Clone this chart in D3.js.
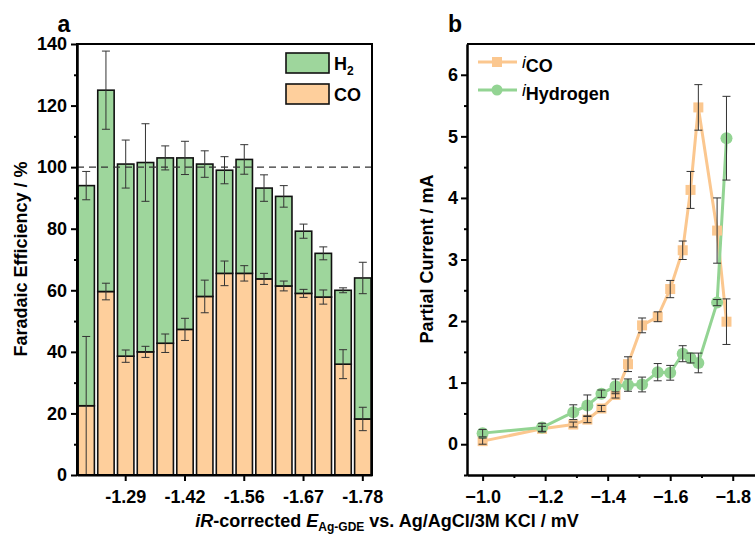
<!DOCTYPE html>
<html>
<head>
<meta charset="utf-8">
<script src="https://cdn.jsdelivr.net/npm/d3@7"></script>
<style>
  body { margin: 0; background: #fff; }
  svg { font-family: "Liberation Sans", Arial, sans-serif; font-weight: bold; }
</style>
</head>
<body>
<script>
const width = 755;
const height = 540;

// potentials (V vs Ag/AgCl), shared by both panels
const potentials = [-1.0, -1.19, -1.29, -1.335, -1.38, -1.425, -1.465, -1.51, -1.56, -1.6, -1.64, -1.665, -1.69, -1.75, -1.78];
const barTicks = [-1.29, -1.425, -1.56, -1.665, -1.78];
const barTickLabels = ["-1.29", "-1.42", "-1.56", "-1.67", "-1.78"];

// panel a: faradaic efficiency (%)
const feCO = [22.5, 59.6, 38.6, 40, 42.8, 47.3, 58, 65.5, 65.5, 63.7, 61.4, 59, 57.8, 36, 18.2];
const feH2 = [71.5, 65.4, 62.4, 61.5, 60.2, 55.7, 43, 33.5, 37, 29.5, 29.1, 20.2, 14.2, 24, 45.8];
const errCO = [22.5, 2.7, 2, 1.8, 3, 3.6, 5.3, 4, 2.5, 1.8, 1.6, 1.3, 2.3, 4.7, 3.8];
const errTotal = [4.6, 12.7, 7.8, 12.6, 3.9, 5.4, 4.3, 4.4, 4.8, 4.3, 3.5, 2.3, 2.1, 0.8, 5.1];

// panel b: partial currents (mA)
const iCO = [0.05, 0.25, 0.32, 0.4, 0.58, 0.8, 1.3, 1.93, 2.07, 2.52, 3.15, 4.13, 5.47, 3.47, 1.99];
const iCOerr = [0.05, 0.04, 0.04, 0.05, 0.05, 0.05, 0.12, 0.12, 0.08, 0.14, 0.15, 0.3, 0.37, 0.53, 0.37];
const iH2 = [0.18, 0.27, 0.52, 0.63, 0.82, 0.94, 0.96, 0.97, 1.17, 1.16, 1.47, 1.4, 1.32, 2.3, 4.97];
const iH2err = [0.06, 0.07, 0.12, 0.17, 0.06, 0.12, 0.1, 0.12, 0.14, 0.12, 0.13, 0.08, 0.16, 0.05, 0.68];

const colorH2 = "#9ed69c";
const colorCO = "#fecf9c";
const lineCO = "#fbc78f";
const lineH2 = "#93d493";
const errColor = "#333";

const svg = d3
  .select("body")
  .append("svg")
  .attr("width", width)
  .attr("height", height);

const plotTop = 44;
const plotBottom = 475;

// ---------- panel a ----------
const xA = d3.scaleBand().domain(potentials).range([77, 372]).paddingInner(0.17).paddingOuter(0.05);
const yA = d3.scaleLinear().domain([0, 140]).range([plotBottom, plotTop]);

const rows = potentials.map((p, i) => ({ p: p, CO: feCO[i], H2: feH2[i], i: i }));
const stack = d3.stack().keys(["CO", "H2"])(rows);
const fills = { CO: colorCO, H2: colorH2 };

const gA = svg.append("g");

gA.selectAll("g.layer")
  .data(stack)
  .join("g")
  .attr("fill", (s) => fills[s.key])
  .selectAll("rect")
  .data((s) => s)
  .join("rect")
  .attr("x", (d) => xA(d.data.p))
  .attr("y", (d) => yA(d[1]))
  .attr("width", xA.bandwidth())
  .attr("height", (d) => yA(d[0]) - yA(d[1]))
  .attr("stroke", "#111")
  .attr("stroke-width", 1.6);

// dashed 100 % line
gA.append("line")
  .attr("x1", 77).attr("x2", 372)
  .attr("y1", yA(100)).attr("y2", yA(100))
  .attr("stroke", "#333")
  .attr("stroke-width", 1.3)
  .attr("stroke-dasharray", "7,5");

function errBar(g, cx, y1, y2, cap) {
  g.append("line").attr("x1", cx).attr("x2", cx).attr("y1", y1).attr("y2", y2)
    .attr("stroke", errColor).attr("stroke-width", 1);
  [y1, y2].forEach((yy) => {
    g.append("line").attr("x1", cx - cap).attr("x2", cx + cap).attr("y1", yy).attr("y2", yy)
      .attr("stroke", errColor).attr("stroke-width", 1);
  });
}

rows.forEach((d, i) => {
  const cx = xA(d.p) + xA.bandwidth() / 2;
  errBar(gA, cx, yA(feCO[i] - errCO[i]), yA(feCO[i] + errCO[i]), 4);
  const tot = feCO[i] + feH2[i];
  errBar(gA, cx, yA(tot - errTotal[i]), yA(tot + errTotal[i]), 4);
});

// frame
gA.append("rect")
  .attr("x", 77).attr("y", plotTop).attr("width", 372 - 77).attr("height", plotBottom - plotTop)
  .attr("fill", "none").attr("stroke", "#000").attr("stroke-width", 2);

const axA = gA.append("g")
  .attr("transform", `translate(77,0)`)
  .call(d3.axisLeft(yA).tickValues(d3.range(0, 141, 20)).tickFormat(d3.format("d")).tickSize(6).tickSizeOuter(0));
gA.append("g")
  .attr("transform", `translate(77,0)`)
  .call(d3.axisLeft(yA).tickValues(d3.range(10, 140, 20)).tickSize(3).tickFormat("").tickSizeOuter(0));

const axAx = gA.append("g")
  .attr("transform", `translate(0,${plotBottom})`)
  .call(
    d3.axisBottom(xA)
      .tickValues(barTicks)
      .tickFormat((v) => barTickLabels[barTicks.indexOf(v)])
      .tickSize(6)
      .tickSizeOuter(0)
  );

// ---------- panel b ----------
const xB = d3.scaleLinear().domain([-0.95, -1.9]).range([467, 764]);
const yB = d3.scaleLinear().domain([-0.5, 6.5]).range([plotBottom, plotTop]);

const gB = svg.append("g");

gB.append("line").attr("x1", 467).attr("x2", width).attr("y1", plotTop).attr("y2", plotTop)
  .attr("stroke", "#000").attr("stroke-width", 2);

const axBy = gB.append("g")
  .attr("transform", `translate(467,0)`)
  .call(d3.axisLeft(yB).tickValues(d3.range(0, 7)).tickFormat(d3.format("d")).tickSize(6).tickSizeOuter(0));
gB.append("g")
  .attr("transform", `translate(467,0)`)
  .call(d3.axisLeft(yB).tickValues([-0.5, 0.5, 1.5, 2.5, 3.5, 4.5, 5.5]).tickSize(3).tickFormat("").tickSizeOuter(0));

const axBx = gB.append("g")
  .attr("transform", `translate(0,${plotBottom})`)
  .call(d3.axisBottom(xB).tickValues([-1.0, -1.2, -1.4, -1.6, -1.8]).tickFormat(d3.format(".1f")).tickSize(6).tickSizeOuter(0));
gB.append("g")
  .attr("transform", `translate(0,${plotBottom})`)
  .call(d3.axisBottom(xB).tickValues([-1.1, -1.3, -1.5, -1.7]).tickSize(3).tickFormat("").tickSizeOuter(0));

[axA, axAx, axBy, axBx].forEach((ax) => {
  ax.selectAll("text").attr("font-size", 18).attr("font-weight", "bold").attr("fill", "#000");
});
svg.selectAll(".domain").attr("stroke-width", 2);
svg.selectAll(".tick line").attr("stroke-width", 2);
axA.selectAll("text").attr("dx", -1);
axAx.selectAll("text").attr("dy", "1.05em");
axBx.selectAll("text").attr("dy", "1.05em");

const lineGen = (vals) =>
  d3.line().x((d, i) => xB(potentials[i])).y((d) => yB(d))(vals);

gB.append("path").attr("d", lineGen(iCO)).attr("fill", "none").attr("stroke", lineCO).attr("stroke-width", 3);
gB.append("path").attr("d", lineGen(iH2)).attr("fill", "none").attr("stroke", lineH2).attr("stroke-width", 3);

gB.selectAll("rect.co")
  .data(iCO)
  .join("rect")
  .attr("class", "co")
  .attr("x", (d, i) => xB(potentials[i]) - 5)
  .attr("y", (d) => yB(d) - 5)
  .attr("width", 10).attr("height", 10)
  .attr("fill", lineCO);

gB.selectAll("circle.h2")
  .data(iH2)
  .join("circle")
  .attr("class", "h2")
  .attr("cx", (d, i) => xB(potentials[i]))
  .attr("cy", (d) => yB(d))
  .attr("r", 6)
  .attr("fill", lineH2);

potentials.forEach((p, i) => {
  errBar(gB, xB(p), yB(iCO[i] - iCOerr[i]), yB(iCO[i] + iCOerr[i]), 4);
  errBar(gB, xB(p), yB(iH2[i] - iH2err[i]), yB(iH2[i] + iH2err[i]), 4);
});

// ---------- legends ----------
const legA = [
  { label: "H", sub: "2", fill: colorH2, y: 53 },
  { label: "CO", sub: "", fill: colorCO, y: 84 },
];
legA.forEach((l) => {
  svg.append("rect").attr("x", 286).attr("y", l.y).attr("width", 43).attr("height", 20)
    .attr("fill", l.fill).attr("stroke", "#111").attr("stroke-width", 1.6);
  const t = svg.append("text").attr("x", 334).attr("y", l.y + 17).attr("font-size", 18).text(l.label);
  if (l.sub) t.append("tspan").attr("font-size", 12).attr("dy", 5).text(l.sub);
});

const legB = [
  { sub: "CO", color: lineCO, y: 62, marker: "square" },
  { sub: "Hydrogen", color: lineH2, y: 90, marker: "circle" },
];
legB.forEach((l) => {
  svg.append("line").attr("x1", 478).attr("x2", 517).attr("y1", l.y).attr("y2", l.y)
    .attr("stroke", l.color).attr("stroke-width", 3);
  if (l.marker === "square") {
    svg.append("rect").attr("x", 492).attr("y", l.y - 5).attr("width", 10).attr("height", 10).attr("fill", l.color);
  } else {
    svg.append("circle").attr("cx", 497).attr("cy", l.y).attr("r", 5.5).attr("fill", l.color);
  }
  const t = svg.append("text").attr("x", 522).attr("y", l.y + 6).attr("font-size", 17);
  t.append("tspan").attr("font-style", "italic").attr("font-weight", "normal").text("i");
  t.append("tspan").attr("font-size", 18).attr("dy", 4).text(l.sub);
});

// ---------- titles ----------
svg.append("text").attr("x", 64).attr("y", 32).attr("font-size", 23).attr("text-anchor", "middle").text("a");
svg.append("text").attr("x", 455).attr("y", 32).attr("font-size", 23).attr("text-anchor", "middle").text("b");

svg.append("text")
  .attr("transform", "translate(27,259) rotate(-90)")
  .attr("text-anchor", "middle")
  .attr("font-size", 18)
  .text("Faradaic Efficiency / %");

svg.append("text")
  .attr("transform", "translate(433,259) rotate(-90)")
  .attr("text-anchor", "middle")
  .attr("font-size", 18)
  .text("Partial Current / mA");

const xt = svg.append("text")
  .attr("x", 387).attr("y", 527)
  .attr("text-anchor", "middle")
  .attr("font-size", 18);
xt.append("tspan").attr("font-style", "italic").text("iR");
xt.append("tspan").text("-corrected ");
xt.append("tspan").attr("font-style", "italic").text("E");
xt.append("tspan").attr("font-size", 12).attr("dy", 4).text("Ag-GDE");
xt.append("tspan").attr("dy", -4).text(" vs. Ag/AgCl/3M KCl / mV");
</script>
</body>
</html>
